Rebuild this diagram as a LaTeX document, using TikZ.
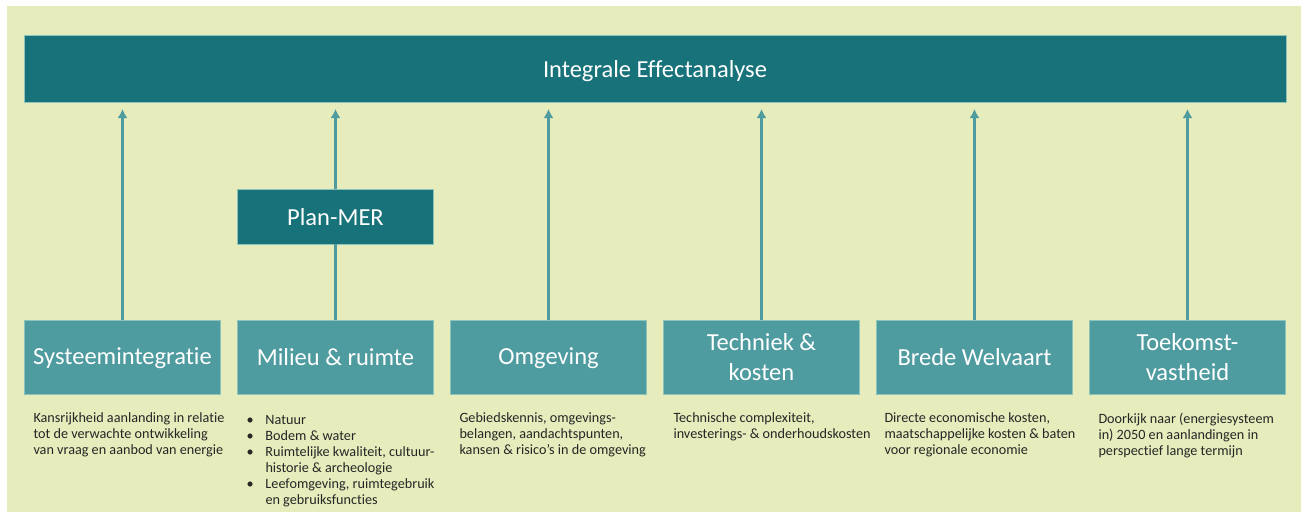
\documentclass[tikz,border=0pt]{standalone}
\usepackage{fontspec}
\setmainfont[Ligatures={NoCommon}]{Carlito}
\usepackage{tikz}
\usetikzlibrary{arrows.meta, positioning}

\definecolor{pagegreen}{HTML}{E6ECBC}
\definecolor{darkteal}{HTML}{18727A}
\definecolor{lightteal}{HTML}{4E9BA0}
\definecolor{edgeteal}{HTML}{8CC4BC}
\definecolor{inktext}{HTML}{262626}

\begin{document}
\begin{tikzpicture}[x=1pt, y=-1pt, >={Latex[length=9pt, width=10pt]},
    node distance=213pt, line width=2.5pt, outer sep=0pt, inner sep=0pt]

  \tikzstyle{topic}=[rectangle, fill=lightteal, draw=edgeteal,
    line width=0.6pt, minimum width=196pt, minimum height=74pt,
    text=white, align=center, text depth=1pt,
    font=\fontsize{24.5}{30}\selectfont]
  \tikzstyle{header}=[rectangle, fill=darkteal, draw=edgeteal,
    line width=0.6pt, text=white, align=center, text depth=0pt,
    font=\fontsize{24.5}{30}\selectfont]
  \tikzstyle{desc}=[anchor=north west, align=left, text=inktext,
    font=\fontsize{14.2}{16}\selectfont]
  \tikzstyle{feed}=[->, draw=lightteal, line width=2.5pt, shorten >=7pt]

  % frame
  \useasboundingbox (0,0) rectangle (1306,520);
  \fill[white] (0,0) rectangle (1306,520);
  \fill[pagegreen] (7,6) rectangle (1301,512);

  \node[header, minimum width=1262pt, minimum height=67pt] (IEA) at (655,68.5)
  {Integrale Effectanalyse};

  \node[topic] (SYS) at (122.5,357) {Systeemintegratie};
  \node[topic, right of=SYS] (MIL) {Milieu \& ruimte};
  \node[topic, right of=MIL] (OMG) {Omgeving};
  \node[topic, right of=OMG] (TECH) {Techniek \&\\kosten};
  \node[topic, right of=TECH] (WELV) {Brede Welvaart};
  \node[topic, right of=WELV] (TOEK) {Toekomst-\\vastheid};

  \node[header, minimum width=196pt, minimum height=55pt, above=76pt of MIL]
  (PLAN) {Plan-MER};

  % arrows into the analysis
  \draw[draw=lightteal, line width=2.5pt] (MIL.north) -- (PLAN.south);
  \draw[feed] (PLAN.north) -- (PLAN.north |- IEA.south);
  \foreach \t in {SYS, OMG, TECH, WELV, TOEK}
  \draw[feed] (\t.north) -- (\t.north |- IEA.south);

  % descriptions
  \node[desc] (SYSd) at ([xshift=9pt, yshift=-19pt]SYS.south west)
  {Kansrijkheid aanlanding in relatie\\tot de verwachte ontwikkeling\\van vraag en aanbod van energie};
  \node[desc] (MILd) at ([xshift=9pt, yshift=-19pt]MIL.south west)
  {\begin{tabular}{@{}p{19pt}@{}l@{}}
    \textbullet & Natuur\\
    \textbullet & Bodem \& water\\
    \textbullet & Ruimtelijke kwaliteit, cultuur-\\
                & historie \& archeologie\\
    \textbullet & Leefomgeving, ruimtegebruik\\
                & en gebruiksfuncties
  \end{tabular}};
  \node[desc] (OMGd) at ([xshift=9pt, yshift=-19pt]OMG.south west)
  {Gebiedskennis, omgevings-\\belangen, aandachtspunten,\\kansen \& risico’s in de omgeving};
  \node[desc] (TECHd) at ([xshift=10pt, yshift=-19pt]TECH.south west)
  {Technische complexiteit,\\investerings- \& onderhoudskosten};
  \node[desc] (WELVd) at ([xshift=8pt, yshift=-19pt]WELV.south west)
  {Directe economische kosten,\\maatschappelijke kosten \& baten\\voor regionale economie};
  \node[desc] (TOEKd) at ([xshift=9pt, yshift=-19pt]TOEK.south west)
  {Doorkijk naar (energiesysteem\\in) 2050 en aanlandingen in\\perspectief lange termijn};
\end{tikzpicture}
\end{document}
